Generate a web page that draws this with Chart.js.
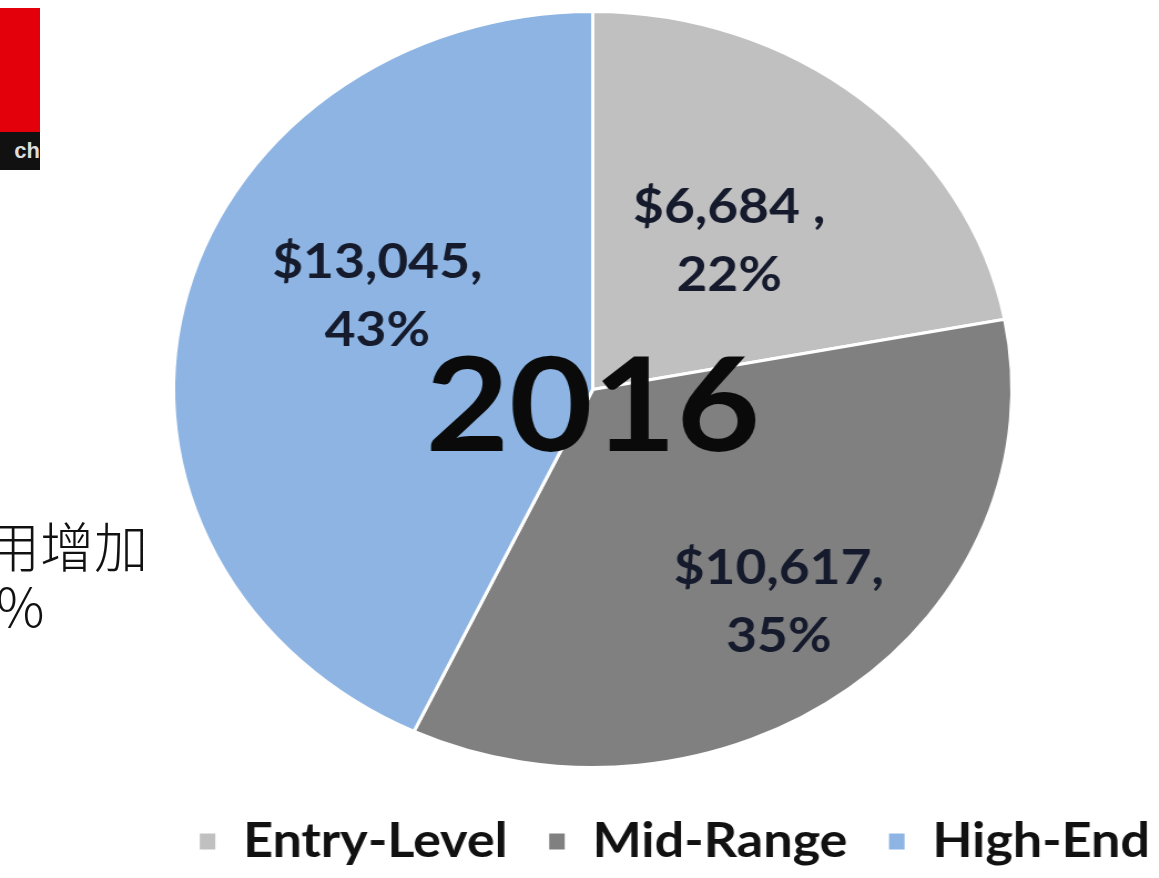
<!DOCTYPE html>
<html>
<head>
    <title>2016</title>
    <script src="https://cdn.jsdelivr.net/npm/chart.js@4.4.5/dist/chart.umd.min.js"></script>
    <style>
        body { margin: 0; background: #fff; width: 1159px; height: 878px; overflow: hidden; position: relative; }
        #wrap { position: absolute; left: 0; top: -3px; transform: scaleX(1.109); transform-origin: 0 0; }
        .logo-red { position: absolute; left: 0; top: 8px; width: 40px; height: 124px; background: #e3000b; }
        .logo-black { position: absolute; left: 0; top: 132px; width: 40px; height: 38px; background: #111;
            color: #ddd; font: bold 22px "Liberation Sans", sans-serif; line-height: 38px; text-align: right; overflow: hidden; }
        .side { position: absolute; font-family: "Noto Sans CJK SC", sans-serif; font-weight: 300; font-size: 54px; color: #111; white-space: nowrap; }
    </style>
</head>
<body>
    <div class="logo-red"></div>
    <div class="logo-black">ch</div>
    <div class="side" style="left:-14px; top:505px;">用增加</div>
    <div class="side" style="left:-4px; top:564px;">%</div>
    <div id="wrap">
        <canvas id="pieChart" width="1045" height="878"></canvas>
    </div>

    <script>
        // chart data
        const categories = ['Entry-Level', 'Mid-Range', 'High-End'];
        const values = [6684, 10617, 13045];
        const valueLabels = ['$6,684 ,', '$10,617,', '$13,045,'];
        const yearLabel = '2016';
        const colors = ['#c0c0c0', '#808080', '#8db4e2'];

        // label placement (fraction of radius, angle shift in degrees)
        const labelRadius = [0.51, 0.717, 0.57];
        const labelShift = [0, -0.5, 13];

        const total = values.reduce((a, b) => a + b, 0);

        const sliceLabels = {
            id: 'sliceLabels',
            afterDatasetsDraw(chart) {
                const ctx = chart.ctx;
                const arcs = chart.getDatasetMeta(0).data;
                ctx.save();
                ctx.font = 'bold 48px Lato';
                ctx.fillStyle = '#151b2c';
                ctx.textAlign = 'center';
                ctx.textBaseline = 'middle';
                arcs.forEach((arc, i) => {
                    const mid = (arc.startAngle + arc.endAngle) / 2 + labelShift[i] * Math.PI / 180;
                    const r = arc.outerRadius * labelRadius[i];
                    const x = arc.x + Math.cos(mid) * r;
                    const y = arc.y + Math.sin(mid) * r;
                    const pct = Math.round(values[i] / total * 100) + '%';
                    ctx.fillText(valueLabels[i], x, y - 34);
                    ctx.fillText(pct, x, y + 34);
                });
                // year in the middle
                const a = arcs[0];
                ctx.font = 'bold 130px Lato';
                ctx.fillStyle = '#0a0a0a';
                ctx.fillText(yearLabel, a.x, a.y + 20);
                ctx.restore();
            }
        };

        new Chart(document.getElementById('pieChart'), {
            type: 'pie',
            data: {
                labels: categories,
                datasets: [{
                    data: values,
                    backgroundColor: colors,
                    borderColor: '#ffffff',
                    borderWidth: 3
                }]
            },
            options: {
                responsive: false,
                animation: false,
                radius: 378,
                layout: { padding: { left: 24, right: -28, top: 0, bottom: 0 } },
                plugins: {
                    tooltip: { enabled: false },
                    legend: {
                        position: 'bottom',
                        align: 'end',
                        labels: {
                            color: '#111',
                            boxWidth: 17,
                            boxHeight: 19,
                            padding: 36,
                            font: { family: 'Lato', weight: 'bold', size: 47 }
                        }
                    }
                }
            },
            plugins: [sliceLabels]
        });
    </script>
</body>
</html>
